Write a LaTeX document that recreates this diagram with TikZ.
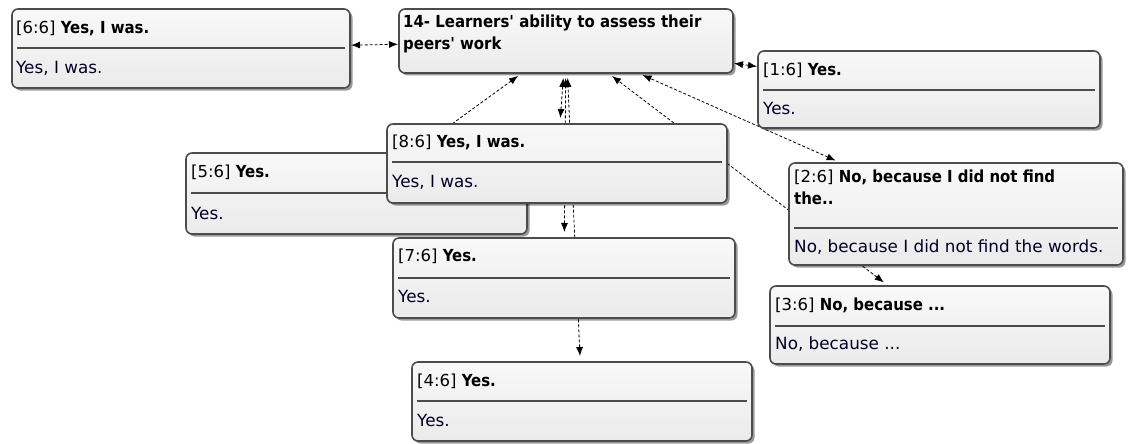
\documentclass[tikz,border=0pt]{standalone}
\usepackage{fontspec}
\setmainfont{DejaVu Sans}
\newfontfamily\condfont{DejaVu Sans Condensed}
\usetikzlibrary{arrows.meta,shadows}
\pgfdeclarelayer{bg}
\pgfsetlayers{bg,main}
\newcommand\hb[1]{{\condfont\fontsize{16.6}{21}\selectfont\bfseries #1}}
\tikzset{
  qbox/.style={rectangle, rounded corners=6pt, draw=black!70, line width=1.6pt,
    top color=gray!5, bottom color=gray!16, inner sep=0pt, outer sep=0pt,
    drop shadow={shadow xshift=2.5pt, shadow yshift=-2.5pt, opacity=0.4, fill=black}},
  hdr/.style={anchor=west, inner sep=0pt, font=\fontsize{16.5}{22}\selectfont, text=black, align=left},
  bodytxt/.style={anchor=west, inner sep=0pt, font=\fontsize{16.8}{20}\selectfont, text=black!85!blue},
  sepline/.style={draw=black!70, line width=1.4pt},
  link/.style={draw=black, line width=0.8pt, dash pattern=on 3pt off 2pt,
    {Latex[length=9pt,width=7pt]}-{Latex[length=9pt,width=7pt]},
    shorten <=6pt, shorten >=5pt},
  hlink/.style={link, shorten <=1pt, shorten >=1pt}
}
\begin{document}
\begin{tikzpicture}[x=1pt,y=-1pt]
\useasboundingbox (0,0) rectangle (1135,444);

% boxes
\node[qbox, minimum width=338pt, minimum height=79pt] (b66) at (181,48.5) {};
\node[hdr] (h66) at (16,28) {[6:6] \hb{Yes, I was.}};
\draw[sepline] ([xshift=5pt]b66.west |- 0,48) -- ([xshift=-5pt]b66.east |- 0,48);
\node[bodytxt] (t66) at (16,68) {Yes, I was.};

\node[qbox, minimum width=334pt, minimum height=64pt] (b14) at (566,41) {};
\node[hdr, anchor=north west] (h14) at (403,15) {\hb{14- Learners' ability to assess their}\\\hb{peers' work}};

\node[qbox, minimum width=342pt, minimum height=77pt] (b16) at (929,89.5) {};
\node[hdr] (h16) at (763,70) {[1:6] \hb{Yes.}};
\draw[sepline] ([xshift=5pt]b16.west |- 0,90) -- ([xshift=-5pt]b16.east |- 0,90);
\node[bodytxt] (t16) at (763,108) {Yes.};

\node[qbox, minimum width=341pt, minimum height=81pt] (b56) at (356.5,193.5) {};
\node[hdr] (h56) at (191,172) {[5:6] \hb{Yes.}};
\draw[sepline] ([xshift=5pt]b56.west |- 0,193) -- ([xshift=-5pt]b56.east |- 0,193);
\node[bodytxt] (t56) at (191,213) {Yes.};

\node[qbox, minimum width=340pt, minimum height=79pt] (b86) at (557,163.5) {};
\node[hdr] (h86) at (392,142) {[8:6] \hb{Yes, I was.}};
\draw[sepline] ([xshift=5pt]b86.west |- 0,162) -- ([xshift=-5pt]b86.east |- 0,162);
\node[bodytxt] (t86) at (392,182) {Yes, I was.};

\node[qbox, minimum width=334pt, minimum height=102pt] (b26) at (956,214) {};
\node[hdr, anchor=north west] (h26) at (794,170) {[2:6] \hb{No, because I did not find}\\\hb{the..}};
\draw[sepline] ([xshift=5pt]b26.west |- 0,228) -- ([xshift=-5pt]b26.east |- 0,228);
\node[bodytxt] (t26) at (794,247) {No, because I did not find the words.};

\node[qbox, minimum width=342pt, minimum height=80pt] (b76) at (564,278) {};
\node[hdr] (h76) at (398,256) {[7:6] \hb{Yes.}};
\draw[sepline] ([xshift=5pt]b76.west |- 0,278) -- ([xshift=-5pt]b76.east |- 0,278);
\node[bodytxt] (t76) at (398,296) {Yes.};

\node[qbox, minimum width=340pt, minimum height=78pt] (b36) at (940,325) {};
\node[hdr] (h36) at (775,305) {[3:6] \hb{No, because ...}};
\draw[sepline] ([xshift=5pt]b36.west |- 0,326) -- ([xshift=-5pt]b36.east |- 0,326);
\node[bodytxt] (t36) at (775,344) {No, because ...};

\node[qbox, minimum width=340pt, minimum height=79pt] (b46) at (582,401.5) {};
\node[hdr] (h46) at (417,381) {[4:6] \hb{Yes.}};
\draw[sepline] ([xshift=5pt]b46.west |- 0,401) -- ([xshift=-5pt]b46.east |- 0,401);
\node[bodytxt] (t46) at (417,420) {Yes.};

% connectors behind the boxes
\begin{pgfonlayer}{bg}
\draw[hlink] (b66) -- (b14);
\draw[hlink] (b16) -- (b14);
\draw[link] (b56) -- (b14);
\draw[link] (b86) -- (b14);
\draw[link] (b76) -- (b14);
\draw[link] (b46) -- (b14);
\draw[link] (b26) -- (b14);
\draw[link] (b36) -- (b14);
\end{pgfonlayer}
\end{tikzpicture}
\end{document}
